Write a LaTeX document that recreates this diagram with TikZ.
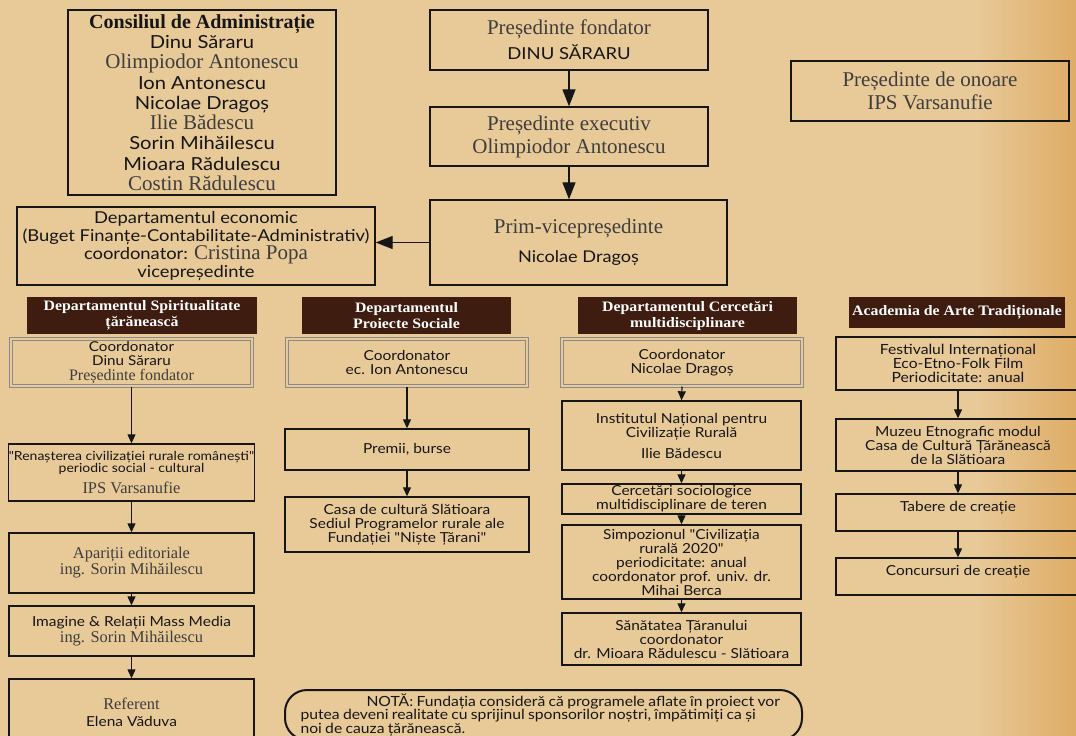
\documentclass[tikz,border=0pt]{standalone}
\usepackage{fontspec}
\setmainfont{Liberation Serif}
\newfontfamily\fq[FakeStretch=1.12]{Lato}
\newfontfamily\hfont[FakeStretch=1.1]{Liberation Serif}
\usetikzlibrary{arrows.meta}
\definecolor{bg}{RGB}{232,201,152}
\definecolor{bgdark}{RGB}{222,172,102}
\definecolor{hdrc}{RGB}{62,28,16}
\definecolor{ink}{RGB}{22,22,22}
\definecolor{tms}{RGB}{62,62,62}
\definecolor{dbl}{RGB}{138,138,138}
\newcommand{\F}[1]{\fq\fontsize{#1}{#1}\selectfont\color{ink}}
\newcommand{\T}[1]{\rmfamily\fontsize{#1}{#1}\selectfont\color{tms}}
\newcommand{\lead}[1]{\fontsize{10}{#1}\selectfont}
\tikzset{
  box/.style={draw=ink, line width=1.4pt, align=center, inner sep=0pt},
  dbox/.style={draw=dbl, double=bg, double distance=2.2pt, line width=1pt, align=center, inner sep=0pt},
  hdr/.style={fill=hdrc, text=white, align=center, inner sep=0pt, font=\hfont\bfseries\fontsize{14.4}{16}\selectfont},
  arr/.style={draw=ink, line width=1.2pt, -{Triangle[length=9pt,width=8pt]}},
  bigarr/.style={draw=ink, line width=1.3pt, -{Triangle[length=17pt,width=13pt]}},
}
\begin{document}
\begin{tikzpicture}[x=1pt,y=-1pt]
\useasboundingbox (0,0) rectangle (1076,736);
\clip (0,0) rectangle (1076,736);
\fill[bg] (0,0) rectangle (1076,736);
\shade[left color=bg, right color=bgdark] (975,-1) rectangle (1077,737);

% top level
\node[box, minimum width=268, minimum height=185, font=\lead{20.3}] (cons) at (202,102.5)
 {{\bfseries\T{20}\color{ink}Consiliul de Administrație}\\
  {\F{18}Dinu Săraru}\\
  {\T{21}Olimpiodor Antonescu}\\
  {\F{18}Ion Antonescu}\\
  {\F{18}Nicolae Dragoș}\\
  {\T{21}Ilie Bădescu}\\
  {\F{18}Sorin Mihăilescu}\\
  {\F{18}Mioara Rădulescu}\\
  {\T{21}Costin Rădulescu}};

\node[box, minimum width=278, minimum height=60, font=\lead{25}] (pf) at (569,40)
 {{\T{21}Președinte fondator}\\{\F{16.5}DINU SĂRARU}};
\node[box, minimum width=278, minimum height=59, font=\lead{23}] (pe) at (569,136.5)
 {{\T{21}Președinte executiv}\\{\T{21}Olimpiodor Antonescu}};
\node[box, minimum width=297, minimum height=85, font=\lead{29}] (pv) at (578.5,242.5)
 {{\T{21}Prim-vicepreședinte}\\{\F{16.2}Nicolae Dragoș}};
\node[box, minimum width=278, minimum height=60, font=\lead{23}] (po) at (930,91)
 {{\T{21}Președinte de onoare}\\{\T{21}IPS Varsanufie}};
\node[box, minimum width=358, minimum height=78, font=\lead{18}] (de) at (196,246)
 {{\F{16.4}Departamentul economic}\\
  {\F{16.4}(Buget Finanțe-Contabilitate-Administrativ)}\\
  {\F{16.4}coordonator: \T{21}Cristina Popa}\\
  {\F{16.4}vicepreședinte}};

\draw[bigarr] (pf.south) -- (pe.north);
\draw[bigarr] (pe.south) -- (pe.south |- pv.north);
\draw[bigarr] (pv.west) -- (de.east |- pv.west);

% headers
\node[hdr, minimum width=230, minimum height=37] (h1) at (142,315.5) {Departamentul Spiritualitate\\țărănească};
\node[hdr, minimum width=209, minimum height=37] (h2) at (406.5,315.5) {Departamentul\\Proiecte Sociale};
\node[hdr, minimum width=219, minimum height=37] (h3) at (687.5,315.5) {Departamentul Cercetări\\multidisciplinare};
\node[hdr, minimum width=216, minimum height=31] (h4) at (957,312.5) {Academia de Arte Tradiționale};

% coordinators
\node[dbox, minimum width=241, minimum height=47, font=\lead{14.5}] (c1) at (131.5,362.5)
 {{\F{13.6}Coordonator}\\{\F{13.6}Dinu Săraru}\\{\T{16}Președinte fondator}};
\node[dbox, minimum width=240, minimum height=47, font=\lead{14}] (c2) at (407,362.5)
 {{\F{13.8}Coordonator}\\{\F{13.8}ec. Ion Antonescu}};
\node[dbox, minimum width=240, minimum height=47, font=\lead{14}] (c3) at (682,362.5)
 {{\F{13.8}Coordonator}\\{\F{13.8}Nicolae Dragoș}};
\node[box, minimum width=244, minimum height=53, font=\lead{14}] (f4) at (958,363.5)
 {{\F{14}Festivalul Internațional}\\{\F{14}Eco-Etno-Folk Film}\\{\F{14}Periodicitate: anual}};

% column 1
\node[box, minimum width=245, minimum height=57, font=\lead{12.5}] (r1) at (131.5,472.5)
 {{\F{12.5}"Renașterea civilizației rurale românești"}\\{\F{12.5}periodic social - cultural}\\[6pt]{\T{16.4}IPS Varsanufie}};
\node[box, minimum width=245, minimum height=60, font=\lead{16}] (a1) at (131.5,563)
 {{\T{16.4}Apariții editoriale}\\{\T{16.4}ing. Sorin Mihăilescu}};
\node[box, minimum width=245, minimum height=50, font=\lead{16}] (i1) at (131.5,631)
 {{\F{13.8}Imagine \& Relații Mass Media}\\{\T{16.4}ing. Sorin Mihăilescu}};
\node[box, minimum width=245, minimum height=66, font=\lead{17}] (rf) at (131.5,712)
 {{\T{16.4}Referent}\\{\F{13.8}Elena Văduva}};
\draw[arr] (c1.south) -- (r1.north);
\draw[arr] (r1) -- (a1);
\draw[arr] (a1) -- (i1);
\draw[arr] (i1) -- (rf);

% column 2
\node[box, minimum width=244, minimum height=41, font=\lead{14}] (pb) at (407,449.5)
 {{\F{13.8}Premii, burse}};
\node[box, minimum width=244, minimum height=55, font=\lead{14}] (cc) at (407,524.5)
 {{\F{13.8}Casa de cultură Slătioara}\\{\F{13.8}Sediul Programelor rurale ale}\\{\F{13.8}Fundației "Niște Țărani"}};
\draw[arr] (c2.south) -- (pb.north);
\draw[arr] (pb) -- (cc);

% column 3
\node[box, minimum width=239, minimum height=69, font=\lead{14}] (in) at (681.5,435.5)
 {{\F{13.8}Institutul Național pentru}\\{\F{13.8}Civilizație Rurală}\\[7pt]{\F{13.8}Ilie Bădescu}};
\node[box, minimum width=239, minimum height=30, font=\lead{14}] (cs) at (681.5,499)
 {{\F{13.8}Cercetări sociologice}\\{\F{13.8}multidisciplinare de teren}};
\node[box, minimum width=239, minimum height=74, font=\lead{14}] (sm) at (681.5,562)
 {{\F{13.8}Simpozionul "Civilizația}\\{\F{13.8}rurală 2020"}\\{\F{13.8}periodicitate: anual}\\{\F{13.8}coordonator prof. univ. dr.}\\{\F{13.8}Mihai Berca}};
\node[box, minimum width=239, minimum height=52, font=\lead{14}] (sn) at (681.5,639)
 {{\F{13.8}Sănătatea Țăranului}\\{\F{13.8}coordonator}\\{\F{13.8}dr. Mioara Rădulescu - Slătioara}};
\draw[arr] (c3.south) -- (in.north);
\draw[arr] (in) -- (cs);
\draw[arr] (cs) -- (sm);
\draw[arr] (sm) -- (sn);

% column 4
\node[box, minimum width=244, minimum height=52, font=\lead{14}] (mz) at (958,445)
 {{\F{13.8}Muzeu Etnografic modul}\\{\F{13.8}Casa de Cultură Țărănească}\\{\F{13.8}de la Slătioara}};
\node[box, minimum width=244, minimum height=37, font=\lead{14}, text depth=12pt] (tb) at (958,512.5)
 {{\F{13.8}Tabere de creație}};
\node[box, minimum width=244, minimum height=37, font=\lead{14}, text depth=12pt] (cn) at (958,576.5)
 {{\F{13.8}Concursuri de creație}};
\draw[arr] (f4) -- (mz);
\draw[arr] (mz) -- (tb);
\draw[arr] (tb) -- (cn);

% note
\node[draw=ink, line width=2pt, rounded corners=22pt, minimum width=517, minimum height=50,
      text width=486, align=left, inner sep=0pt, font=\lead{13.5}] (nota) at (543.5,715)
 {{\F{14}\hspace*{66pt}NOTĂ: Fundația consideră că programele aflate în proiect vor}\\
  {\F{14}putea deveni realitate cu sprijinul sponsorilor noștri, împătimiți ca și}\\
  {\F{14}noi de cauza țărănească.}};
\end{tikzpicture}
\end{document}
